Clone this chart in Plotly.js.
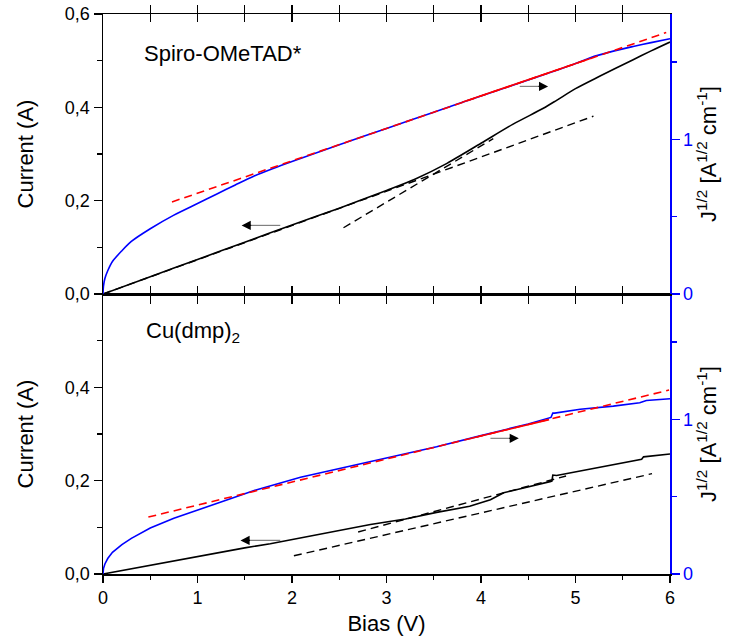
<!DOCTYPE html>
<html>
<head>
<meta charset="utf-8">
<script src="https://cdn.plot.ly/plotly-3.0.1.min.js"></script>
<style>html,body{margin:0;padding:0;background:#fff;}#chart{width:737px;height:641px;}</style>
</head>
<body>
<div id="chart"></div>
<script>
// ---------- Top panel (Spiro-OMeTAD*) ----------
const topBiasCurrent = [0, 0.5, 1, 1.5, 2, 2.5, 3, 3.3, 3.64, 4.0, 4.34, 4.66, 4.8, 5.0, 5.26, 5.61, 5.8, 6.0];
const topCurrent     = [0, 0.037, 0.074, 0.111, 0.148, 0.184, 0.222, 0.246, 0.28, 0.323, 0.364, 0.398, 0.415, 0.44, 0.467, 0.502, 0.521, 0.54];
const topBiasJ = [0, 0.005, 0.02, 0.05, 0.1, 0.2, 0.3, 0.5, 0.75, 1.0, 1.2, 1.4, 1.6, 1.8, 2, 2.5, 3, 3.5, 4, 4.5, 5, 5.15, 5.4, 5.61, 5.8, 6];
const topJ     = [0, 0.05, 0.1, 0.15, 0.21, 0.28, 0.34, 0.422, 0.51, 0.585, 0.645, 0.705, 0.763, 0.812, 0.857, 0.965, 1.07, 1.175, 1.28, 1.383, 1.49, 1.526, 1.57, 1.60, 1.625, 1.65];
const topFitJx = [0.73, 5.96];
const topFitJy = [0.595, 1.69];
const topFitJSolidx = [3.8, 5.15];
const topFitJSolidy = [1.24, 1.52];
const topFitI1x = [0, 5.19];
const topFitI1y = [0, 0.381];
const topFitI2x = [2.545, 4.13];
const topFitI2y = [0.142, 0.333];

// ---------- Bottom panel (Cu(dmp)2) ----------
const botBiasCurrent = [0, 0.5, 1, 1.5, 1.77, 2.2, 2.83, 3.2, 3.53, 3.88, 4.1, 4.24, 4.45, 4.73, 4.75, 4.76, 4.8, 5.12, 5.4, 5.65, 5.7, 5.72, 5.96, 6];
const botCurrent     = [0, 0.019, 0.038, 0.056, 0.065, 0.082, 0.106, 0.118, 0.132, 0.145, 0.159, 0.174, 0.185, 0.198, 0.199, 0.212, 0.211, 0.2235, 0.233, 0.243, 0.246, 0.251, 0.256, 0.257];
const botBiasJ = [0, 0.005, 0.02, 0.05, 0.1, 0.2, 0.3, 0.5, 0.75, 1.03, 1.3, 1.6, 2.09, 2.5, 2.83, 3.2, 3.53, 3.99, 4.3, 4.5, 4.74, 4.76, 4.78, 5.05, 5.4, 5.68, 5.75, 6];
const botJ     = [0, 0.035, 0.065, 0.1, 0.14, 0.19, 0.23, 0.297, 0.36, 0.42, 0.48, 0.54, 0.625, 0.68, 0.727, 0.775, 0.823, 0.893, 0.94, 0.97, 1.012, 1.04, 1.04, 1.065, 1.085, 1.107, 1.122, 1.133];
const botFitJx = [0.48, 5.99];
const botFitJy = [0.368, 1.189];
const botFitJSolidx = [3.9, 4.72];
const botFitJSolidy = [0.877, 0.998];
const botFitI1x = [2.02, 5.81];
const botFitI1y = [0.039, 0.215];
const botFitI2x = [2.7, 4.9];
const botFitI2y = [0.09, 0.21];

// ---------- Tick labels ----------
const leftTickVals = [0, 0.2, 0.4, 0.6];
const leftTickText = ['0,0', '0,2', '0,4', '0,6'];
const leftMinorVals = [0.1, 0.3, 0.5];
const rightTickVals = [0, 1];
const rightTickText = ['0', '1'];
const rightMinorVals = [0.5, 1.5];
const xTickVals = [0, 1, 2, 3, 4, 5, 6];
const xTickText = ['0', '1', '2', '3', '4', '5', '6'];
const panelLabels = ['Spiro-OMeTAD*', 'Cu(dmp)<sub>2</sub>'];

const FONT = 'Liberation Sans, Arial, sans-serif';
const BLUE = '#0000ff', RED = '#ff0000', BLACK = '#000000';
const DASH = '8px,5px';

function ln(x, y, xa, ya, color, dash, width, spline) {
  const line = {color: color, width: width || 1.6, dash: dash || 'solid'};
  if (spline) { line.shape = 'spline'; line.smoothing = 0.8; }
  return {x: x, y: y, xaxis: xa, yaxis: ya, type: 'scatter', mode: 'lines',
          line: line, hoverinfo: 'skip', showlegend: false};
}

const data = [
  // top panel
  ln(topFitI1x, topFitI1y, 'x2', 'y3', BLACK, DASH, 1.4),
  ln(topFitI2x, topFitI2y, 'x2', 'y3', BLACK, DASH, 1.4),
  ln(topBiasCurrent, topCurrent, 'x2', 'y3', BLACK, null, 1.6, true),
  ln(topBiasJ, topJ, 'x2', 'y4', BLUE, null, 1.6, true),
  ln(topFitJx, topFitJy, 'x2', 'y4', RED, DASH),
  ln(topFitJSolidx, topFitJSolidy, 'x2', 'y4', RED),
  // bottom panel
  ln(botFitI1x, botFitI1y, 'x', 'y', BLACK, DASH, 1.4),
  ln(botFitI2x, botFitI2y, 'x', 'y', BLACK, DASH, 1.4),
  ln(botBiasCurrent, botCurrent, 'x', 'y', BLACK),
  ln(botBiasJ, botJ, 'x', 'y2', BLUE),
  ln(botFitJx, botFitJy, 'x', 'y2', RED, DASH),
  ln(botFitJSolidx, botFitJSolidy, 'x', 'y2', RED),
  // invisible trace to realise the top-edge tick axis of the bottom panel
  {x: [0], y: [0], xaxis: 'x3', yaxis: 'y', mode: 'markers', marker: {opacity: 0}, hoverinfo: 'skip', showlegend: false}
];

const tickFont = {family: FONT, size: 18, color: BLACK};
const titleFont = {family: FONT, size: 22, color: BLACK};
const jTitle = 'J<sup>1/2</sup> [A<sup>1/2</sup> cm<sup>-1</sup>]';

function leftAxis(domain, anchor, vals, text) {
  return {
    domain: domain, anchor: anchor, range: [0, 0.6], showgrid: false, zeroline: false,
    showline: true, linecolor: BLACK, linewidth: 1.5,
    ticks: 'outside', ticklen: 8, tickwidth: 1.3, tickcolor: BLACK,
    tickmode: 'array', tickvals: vals, ticktext: text, tickfont: tickFont,
    minor: {tickmode: 'array', tickvals: leftMinorVals, ticks: 'outside', ticklen: 5, tickwidth: 1.3, tickcolor: BLACK},
    title: {text: 'Current (A)', font: titleFont, standoff: 25}
  };
}
function rightAxis(over, anchor) {
  return {
    overlaying: over, anchor: anchor, side: 'right', range: [0, 1.81], showgrid: false, zeroline: false,
    showline: true, linecolor: BLUE, linewidth: 1.5,
    ticks: 'outside', ticklen: 8, tickwidth: 1.3, tickcolor: BLUE,
    tickmode: 'array', tickvals: rightTickVals, ticktext: rightTickText,
    tickfont: {family: FONT, size: 18, color: BLUE},
    minor: {tickmode: 'array', tickvals: rightMinorVals, ticks: 'outside', ticklen: 5, tickwidth: 1.3, tickcolor: BLUE},
    title: {text: jTitle, font: titleFont, standoff: 8}
  };
}

const layout = {
  width: 737, height: 641,
  margin: {l: 103, r: 67, t: 14, b: 67},
  paper_bgcolor: '#ffffff', plot_bgcolor: '#ffffff',
  showlegend: false,
  xaxis: {
    domain: [0, 1], anchor: 'y', range: [0, 6], showgrid: false, zeroline: false,
    showline: true, linecolor: BLACK, linewidth: 1.5,
    ticks: 'outside', ticklen: 7, tickwidth: 1.3, tickcolor: BLACK,
    tickmode: 'array', tickvals: xTickVals, ticktext: xTickText, tickfont: tickFont,
    minor: {dtick: 0.5, tick0: 0, ticks: 'outside', ticklen: 4, tickwidth: 1.3, tickcolor: BLACK},
    title: {text: 'Bias (V)', font: titleFont, standoff: 8}
  },
  xaxis3: {
    overlaying: 'x', anchor: 'y', side: 'top', range: [0, 6], showgrid: false, zeroline: false,
    showline: true, linecolor: BLACK, linewidth: 1.5,
    ticks: 'inside', ticklen: 7, tickwidth: 1.3, tickcolor: BLACK, dtick: 0.5, tick0: 0,
    showticklabels: false
  },
  xaxis2: {
    domain: [0, 1], anchor: 'y3', range: [0, 6], showgrid: false, zeroline: false,
    showline: true, linecolor: BLACK, linewidth: 1.5, mirror: 'allticks',
    ticks: 'inside', ticklen: 8, tickwidth: 1.3, tickcolor: BLACK, dtick: 0.5, tick0: 0,
    showticklabels: false
  },
  yaxis: leftAxis([0, 0.5], 'x', leftTickVals.slice(0, 3), leftTickText.slice(0, 3)),
  yaxis2: rightAxis('y', 'x'),
  yaxis3: leftAxis([0.5, 1], 'x2', leftTickVals, leftTickText),
  yaxis4: rightAxis('y3', 'x2'),
  shapes: [
    {type: 'line', xref: 'x2', yref: 'y3', x0: 1.876, x1: 1.55, y0: 0.147, y1: 0.147, line: {color: '#808080', width: 1.2}},
    {type: 'line', xref: 'x2', yref: 'y4', x0: 4.41, x1: 4.62, y0: 1.342, y1: 1.342, line: {color: '#808080', width: 1.2}},
    {type: 'line', xref: 'x', yref: 'y', x0: 1.876, x1: 1.54, y0: 0.072, y1: 0.072, line: {color: '#808080', width: 1.2}},
    {type: 'line', xref: 'x', yref: 'y2', x0: 4.10, x1: 4.31, y0: 0.877, y1: 0.877, line: {color: '#808080', width: 1.2}}
  ],
  annotations: [
    {xref: 'paper', yref: 'paper', x: 0.068, y: 0.93, xanchor: 'left', yanchor: 'middle', showarrow: false,
     text: panelLabels[0], font: titleFont},
    {xref: 'paper', yref: 'paper', x: 0.072, y: 0.432, xanchor: 'left', yanchor: 'middle', showarrow: false,
     text: panelLabels[1], font: titleFont},
    {xref: 'x2', yref: 'y3', x: 1.467, y: 0.147, ax: 11, ay: 0, text: '', showarrow: true, arrowhead: 2, arrowsize: 1.3, arrowwidth: 1.4, arrowcolor: BLACK},
    {xref: 'x2', yref: 'y4', x: 4.71, y: 1.342, ax: -11, ay: 0, text: '', showarrow: true, arrowhead: 2, arrowsize: 1.3, arrowwidth: 1.4, arrowcolor: BLACK},
    {xref: 'x', yref: 'y', x: 1.455, y: 0.072, ax: 11, ay: 0, text: '', showarrow: true, arrowhead: 2, arrowsize: 1.3, arrowwidth: 1.4, arrowcolor: BLACK},
    {xref: 'x', yref: 'y2', x: 4.40, y: 0.877, ax: -11, ay: 0, text: '', showarrow: true, arrowhead: 2, arrowsize: 1.3, arrowwidth: 1.4, arrowcolor: BLACK}
  ]
};

Plotly.newPlot('chart', data, layout, {staticPlot: true, displayModeBar: false});
</script>
</body>
</html>
